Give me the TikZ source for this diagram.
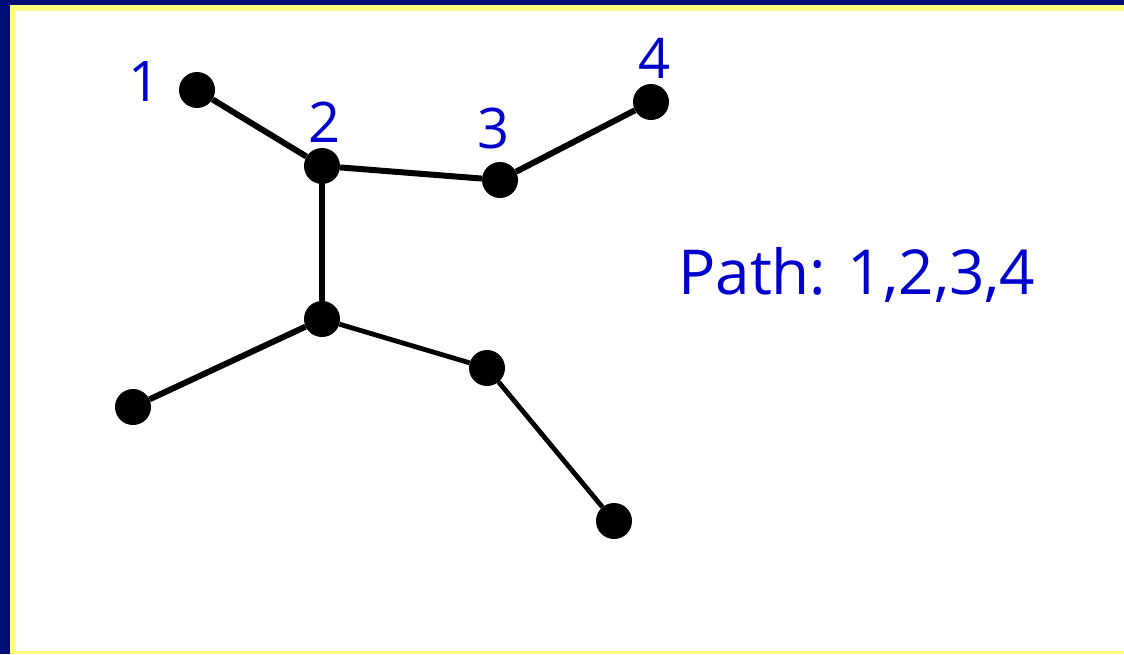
\documentclass[tikz,border=0pt]{standalone}
\usepackage{fontspec}
\setmainfont{Open Sans}
\definecolor{navy}{HTML}{000E78}
\definecolor{paleyellow}{HTML}{FFFF80}
\definecolor{labelblue}{HTML}{0000CC}
\begin{document}
\begin{tikzpicture}[x=1pt,y=-1pt,
  vert/.style={circle,fill=black,inner sep=0pt,minimum size=36pt},
  edge/.style={line width=6pt},
  thinedge/.style={line width=4.8pt},
  lab/.style={text=labelblue,font=\fontsize{56}{56}\selectfont,inner sep=0pt}]
\useasboundingbox (0,0) rectangle (1124,654);
\fill[navy] (0,0) rectangle (1124,654);
\fill[paleyellow] (10,5) rectangle (1124,654);
\fill[white] (16,11) rectangle (1124,651);
\node[vert] (n1) at (197,90) {};
\node[vert] (n2) at (322,166) {};
\node[vert] (n3) at (500,180) {};
\node[vert] (n4) at (651,102) {};
\node[vert] (n5) at (322,319) {};
\node[vert] (n6) at (133,407) {};
\node[vert] (n7) at (487,368) {};
\node[vert] (n8) at (614,521) {};
\draw[edge] (n1) -- (n2);
\draw[edge] (n2) -- (n3);
\draw[edge] (n3) -- (n4);
\draw[edge] (n2) -- (n5);
\draw[edge] (n5) -- (n6);
\draw[thinedge] (n5) -- (n7);
\draw[thinedge] (n7) -- (n8);
\node[lab] (l1) at (145,82) {1};
\node[lab] (l2) at (325,122) {2};
\node[lab] (l3) at (494,128) {3};
\node[lab] (l4) at (655,58) {4};
\node[lab,anchor=base west,font=\fontsize{62}{62}\selectfont] (path) at (678,294) {Path: 1,2,3,4};
\end{tikzpicture}
\end{document}
